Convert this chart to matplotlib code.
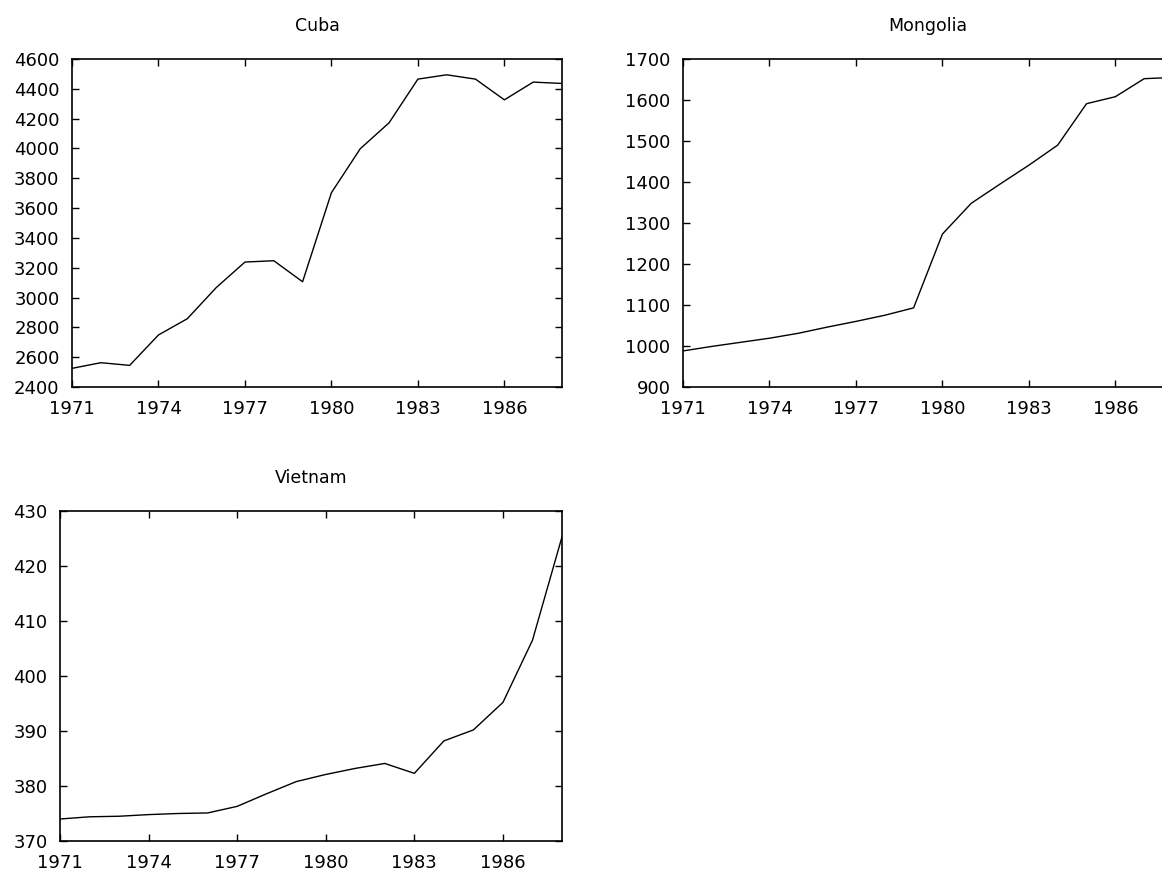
"""
energy use per capita, three small panels
"""

from matplotlib import pyplot as plt

years = list(range(1971, 1989))

cuba = [2525, 2563, 2545, 2749, 2858, 3066, 3238, 3247, 3106, 3703,
        3998, 4172, 4465, 4494, 4465, 4326, 4445, 4436]
mongolia = [988, 999, 1009, 1019, 1031, 1046, 1060, 1075, 1093, 1273,
            1348, 1395, 1441, 1490, 1591, 1608, 1652, 1655]
vietnam = [374.0, 374.4, 374.5, 374.8, 375.0, 375.1, 376.3, 378.6, 380.8, 382.1,
           383.2, 384.1, 382.3, 388.2, 390.2, 395.2, 406.5, 425.3]

xticks = list(range(1971, 1987, 3))
cuba_yticks = list(range(2400, 4601, 200))
mongolia_yticks = list(range(900, 1701, 100))
vietnam_yticks = list(range(370, 431, 10))


def make_panel(fig, rect, title, values, yticks):
	ax = fig.add_axes(rect)
	ax.plot(years, values, color='black', lw=1.0)
	ax.set_xlim(1971, 1988)
	ax.set_ylim(yticks[0], yticks[-1])
	ax.set_xticks(xticks)
	ax.set_yticks(yticks)
	# gnuplot look: ticks inside, on all four sides
	ax.tick_params(direction='in', length=5, width=1, top=True, right=True,
		labelsize=13, colors='black')
	ax.tick_params(axis='x', pad=9)
	ax.tick_params(axis='y', pad=9)
	for s in ax.spines.values():
		s.set_linewidth(1.2)
	ax.set_title(title, fontsize=12.5, pad=20)
	return ax


def create_figure():
	fig = plt.figure(figsize=(11.62, 8.73), dpi=100)
	W, H = 1162.0, 873.0
	# pixel boxes: left, top, right, bottom
	boxes = [
		(72, 59, 562, 387),
		(683, 59, 1173, 387),
		(60, 511, 562, 841),
	]
	rects = [(l / W, 1 - b / H, (r - l) / W, (b - t) / H) for l, t, r, b in boxes]
	make_panel(fig, rects[0], 'Cuba', cuba, cuba_yticks)
	make_panel(fig, rects[1], 'Mongolia', mongolia, mongolia_yticks)
	make_panel(fig, rects[2], 'Vietnam', vietnam, vietnam_yticks)
	fig.savefig('out.png', dpi=100)


if __name__ == '__main__':
	create_figure()
